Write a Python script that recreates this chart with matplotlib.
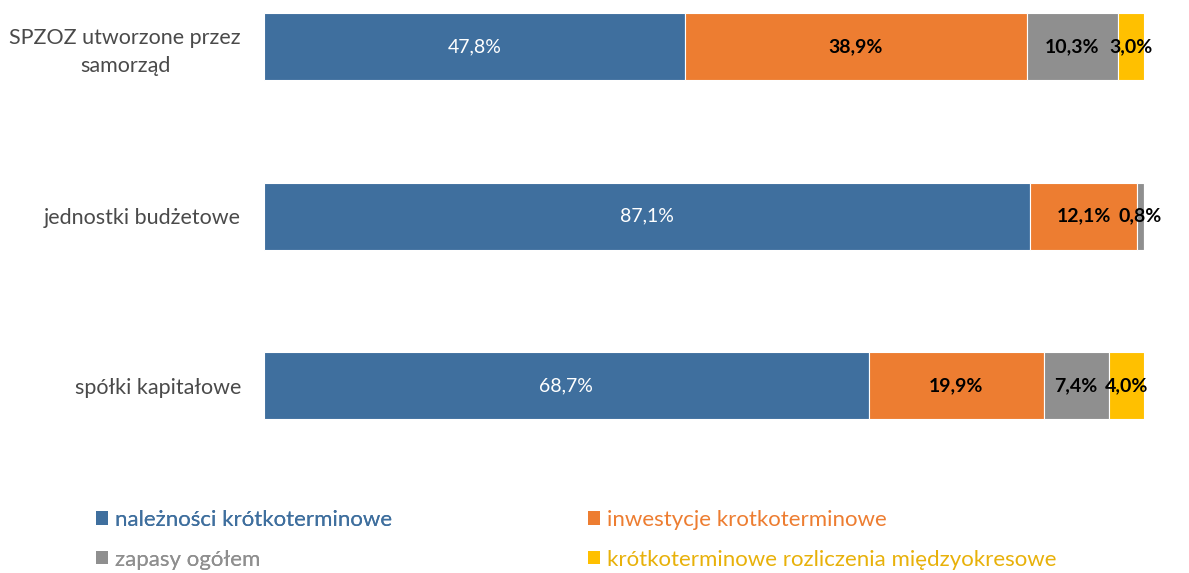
import matplotlib
matplotlib.use("Agg")
import matplotlib.pyplot as plt
from matplotlib.patches import Patch

categories = ["SPZOZ utworzone przez\nsamorząd", "jednostki budżetowe", "spółki kapitałowe"]
series_names = ["należności krótkoterminowe", "inwestycje krotkoterminowe",
                "zapasy ogółem", "krótkoterminowe rozliczenia międzyokresowe"]
naleznosci = [47.8, 87.1, 68.7]
inwestycje = [38.9, 12.1, 19.9]
zapasy = [10.3, 0.8, 7.4]
rozliczenia = [3.0, 0.0, 4.0]
colors = ["#3F6F9E", "#ED7D31", "#8F8F8F", "#FFC000"]
legend_text_colors = ["#3F6F9E", "#ED7D31", "#8F8F8F", "#E8B10A"]

plt.rcParams['font.family'] = ['Lato', 'DejaVu Sans']

fig = plt.figure(figsize=(11.89, 5.73), dpi=100)
ax = fig.add_axes([264/1189, 1 - 440/573, 880/1189, 440/573])

series = [naleznosci, inwestycje, zapasy, rozliczenia]
ypos = list(range(len(categories)))
left = [0.0] * len(categories)
for i, (vals, col) in enumerate(zip(series, colors)):
    ax.barh(ypos, vals, left=left, height=0.395, color=col,
            edgecolor="white", linewidth=0.8)
    for j, v in enumerate(vals):
        if v <= 0:
            continue
        cx = left[j] + v / 2
        txt = f"{v:.1f}".replace(".", ",") + "%"
        if i == 0:
            ax.text(cx, ypos[j], txt, ha="center", va="center", color="white",
                    fontsize=14)
        else:
            ax.text(cx, ypos[j], txt, ha="center", va="center", color="black",
                    fontsize=14, fontweight="bold")
    left = [l + v for l, v in zip(left, vals)]

ax.set_xlim(0, 100)
ax.set_ylim(2 + (440 - 385.5) / 170, -46.5 / 170)
ax.set_yticks(ypos)
ax.set_yticklabels(categories, fontsize=15.5, color="#4A4A4A")
for t in ax.get_yticklabels():
    t.set_multialignment("center")
    t.set_linespacing(1.45)
ax.tick_params(axis="y", length=0, pad=16.5)
ax.set_xticks([])
for s in ax.spines.values():
    s.set_visible(False)

handles = [Patch(facecolor=c, edgecolor="none") for c in colors]
common = dict(loc="upper left", frameon=False, fontsize=16, handlelength=0.55,
              handleheight=0.55, handletextpad=0.3, labelspacing=0.88,
              borderpad=0, borderaxespad=0)
leg1 = fig.legend([handles[0], handles[2]], [series_names[0], series_names[2]],
                  bbox_to_anchor=(96/1189, 1 - 510/573),
                  labelcolor=[legend_text_colors[0], legend_text_colors[2]], **common)
leg2 = fig.legend([handles[1], handles[3]], [series_names[1], series_names[3]],
                  bbox_to_anchor=(588/1189, 1 - 510/573),
                  labelcolor=[legend_text_colors[1], legend_text_colors[3]], **common)
fig.add_artist(leg1)

fig.savefig("out.png", dpi=100)
